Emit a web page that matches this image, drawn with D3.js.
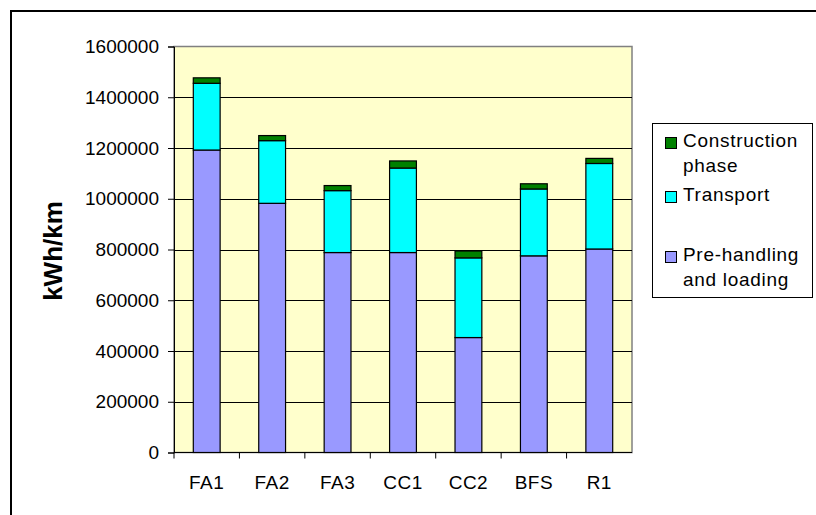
<!DOCTYPE html>
<html lang="en">
<head>
<meta charset="utf-8">
<title>kWh/km by alternative</title>
<script src="https://d3js.org/d3.v7.min.js"></script>
<style>
  body { margin: 0; background: #fff; }
  svg { display: block; font-family: "Liberation Sans", Arial, sans-serif; }
</style>
</head>
<body>
<svg></svg>
<script>
// data
var categories = ["FA1", "FA2", "FA3", "CC1", "CC2", "BFS", "R1"];
var preHandling = [1192000, 982000, 788000, 788000, 453000, 775000, 802000];
var transport = [263000, 247000, 244000, 333000, 314000, 263500, 337000];
var construction = [21500, 20000, 20000, 28000, 27000, 20500, 20000];
var yTicks = [0, 200000, 400000, 600000, 800000, 1000000, 1200000, 1400000, 1600000];

var seriesNames = ["Pre-handling and loading", "Transport", "Construction phase"];
var seriesColors = ["#9999ff", "#00ffff", "#008000"];

var w = 816, h = 515;
var plot = {left: 174, top: 46.5, right: 632, bottom: 452.5};

var svg = d3.select("svg").attr("width", w).attr("height", h);

// outer chart border, runs off the page on right and bottom
svg.append("rect")
  .attr("x", 11).attr("y", 11)
  .attr("width", w).attr("height", h)
  .attr("fill", "#fff").attr("stroke", "#000").attr("stroke-width", 2);

var x = d3.scaleBand().domain(categories)
  .range([plot.left, plot.right]).paddingInner(0.59).paddingOuter(0.295);
var xTick = d3.scaleBand().domain(categories).range([plot.left, plot.right]);
var y = d3.scaleLinear().domain([0, 1600000]).range([plot.bottom, plot.top]);

// plot background
svg.append("rect")
  .attr("x", plot.left).attr("y", plot.top)
  .attr("width", plot.right - plot.left).attr("height", plot.bottom - plot.top)
  .attr("fill", "#ffffcc").attr("stroke", "#808080").attr("stroke-width", 1.5);

// gridlines
svg.append("g").selectAll("line")
  .data(yTicks.slice(1, -1)).enter().append("line")
  .attr("x1", plot.left).attr("x2", plot.right)
  .attr("y1", d => Math.round(y(d)) + 0.5).attr("y2", d => Math.round(y(d)) + 0.5)
  .attr("stroke", "#000").attr("stroke-width", 1);

// stacked bars
var table = categories.map((c, i) => ({cat: c, s0: preHandling[i], s1: transport[i], s2: construction[i]}));
var stack = d3.stack().keys(["s0", "s1", "s2"])(table);

svg.append("g").selectAll("g")
  .data(stack).enter().append("g")
  .attr("fill", (d, i) => seriesColors[i])
  .selectAll("rect")
  .data(d => d).enter().append("rect")
  .attr("x", d => x(d.data.cat))
  .attr("width", x.bandwidth())
  .attr("y", d => y(d[1]))
  .attr("height", d => y(d[0]) - y(d[1]))
  .attr("stroke", "#000").attr("stroke-width", 1.2);

// y axis
var yAxis = d3.axisLeft(y).tickValues(yTicks).tickSize(6).tickPadding(9).tickFormat(d3.format("d"));
var gy = svg.append("g").attr("transform", "translate(" + plot.left + ",0)").call(yAxis);
gy.select(".domain").attr("stroke", "#000");
gy.selectAll("line").attr("stroke", "#000");
gy.selectAll("text").attr("font-size", 19).attr("fill", "#000")
  .attr("font-family", "Liberation Sans, Arial, sans-serif");

// x axis: ticks sit between categories
var gx = svg.append("g").attr("transform", "translate(0," + plot.bottom + ")");
gx.append("line").attr("x1", plot.left).attr("x2", plot.right).attr("stroke", "#000");
gx.selectAll("line.tk")
  .data(categories).enter().append("line").attr("class", "tk")
  .attr("x1", d => xTick(d)).attr("x2", d => xTick(d))
  .attr("y1", 0).attr("y2", 6).attr("stroke", "#000");
gx.selectAll("text")
  .data(categories).enter().append("text")
  .attr("x", d => xTick(d) + xTick.bandwidth() / 2)
  .attr("y", 36)
  .attr("text-anchor", "middle").attr("font-size", 19).attr("fill", "#000")
  .attr("letter-spacing", 0.5)
  .text(d => d);

// axis title
svg.append("text")
  .attr("transform", "translate(62,251) rotate(-90)")
  .attr("text-anchor", "middle")
  .attr("font-size", 26).attr("font-weight", "bold")
  .text("kWh/km");

// legend
var legend = svg.append("g");
legend.append("rect")
  .attr("x", 652.5).attr("y", 123.5).attr("width", 160).attr("height", 174)
  .attr("fill", "#fff").attr("stroke", "#000").attr("stroke-width", 1);

var legendItems = [
  {name: seriesNames[2], color: seriesColors[2], lines: ["Construction", "phase"], y: 137},
  {name: seriesNames[1], color: seriesColors[1], lines: ["Transport"], y: 191},
  {name: seriesNames[0], color: seriesColors[0], lines: ["Pre-handling", "and loading"], y: 251}
];
var li = legend.selectAll("g.item").data(legendItems).enter().append("g").attr("class", "item");
li.append("rect")
  .attr("x", 665.5).attr("y", d => d.y + 0.5).attr("width", 11).attr("height", 11)
  .attr("fill", d => d.color).attr("stroke", "#000");
li.each(function(d) {
  var t = d3.select(this).append("text")
    .attr("x", 683).attr("y", d.y + 10).attr("font-size", 19).attr("fill", "#000")
    .attr("letter-spacing", 0.7);
  d.lines.forEach((s, k) => {
    t.append("tspan").attr("x", 683).attr("dy", k === 0 ? 0 : 25).text(s);
  });
});
</script>
</body>
</html>
